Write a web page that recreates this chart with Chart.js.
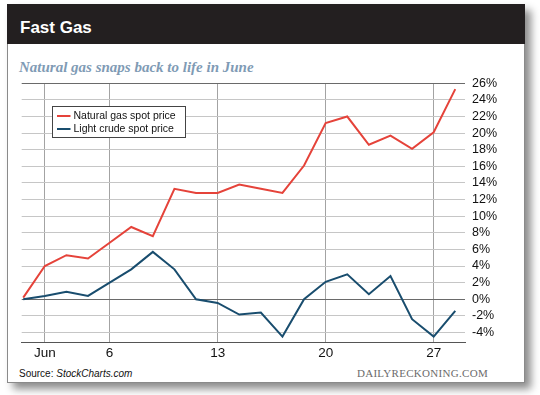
<!DOCTYPE html>
<html>
<head>
<meta charset="utf-8">
<script src="https://cdn.jsdelivr.net/npm/chart.js@4/dist/chart.umd.min.js"></script>
<style>
  html, body { margin:0; padding:0; background:#fff; width:540px; height:395px; overflow:hidden; }
  #frame { position:absolute; left:7px; top:4px; width:518px; height:379px; box-sizing:border-box;
           border:1px solid #8a8a8a; background:#fff; box-shadow:6px 6px 8px rgba(0,0,0,0.45); }
  #head { position:absolute; left:7px; top:4px; width:518px; height:40px; background:#231f20; }
  .t { position:absolute; white-space:nowrap; line-height:1; }
  #title { left:20px; top:17.6px; font:bold 17px "Liberation Sans", Arial, sans-serif; color:#fff; }
  #sub { left:19px; top:59.4px; font:italic bold 15px "Liberation Serif", "Times New Roman", serif; color:#7f9bb5; }
  #src { left:19px; top:368.2px; font:10px "Liberation Sans", Arial, sans-serif; color:#111; }
  #brand { right:52px; top:367px; font:11px "Liberation Serif", "Times New Roman", serif; color:#6b6b6b; letter-spacing:0.3px; }
  #c { position:absolute; left:0; top:0; }
</style>
</head>
<body>
<div id="frame"></div>
<div id="head"></div>
<div class="t" id="title">Fast Gas</div>
<div class="t" id="sub">Natural gas snaps back to life in June</div>
<div class="t" id="src">Source: <i>StockCharts.com</i></div>
<div class="t" id="brand">DAILYRECKONING.COM</div>
<canvas id="c" width="540" height="395"></canvas>
<script>
// Trading days (May 31 – Jun 28)
const categories = ['May 31','Jun 1','Jun 2','Jun 3','Jun 6','Jun 7','Jun 8','Jun 9','Jun 10',
  'Jun 13','Jun 14','Jun 15','Jun 16','Jun 17','Jun 20','Jun 21','Jun 22','Jun 23','Jun 24','Jun 27','Jun 28'];
// % change
const gasValues   = [0.2, 4.0, 5.3, 4.9, 6.8, 8.7, 7.6, 13.3, 12.8, 12.8, 13.8, 13.3, 12.8, 16.1, 21.2, 22.0, 18.6, 19.7, 18.1, 20.1, 25.3];
const crudeValues = [0.0, 0.4, 0.9, 0.4, 2.0, 3.6, 5.7, 3.6, 0.0, -0.45, -1.85, -1.6, -4.5, 0.0, 2.1, 3.0, 0.6, 2.8, -2.4, -4.5, -1.4];
const seriesNames = ['Natural gas spot price', 'Light crude spot price'];
const tickDates  = ['Jun 1','Jun 6','Jun 13','Jun 20','Jun 27'];
const tickLabels = ['Jun','6','13','20','27'];
const yTicks = [-4,-2,0,2,4,6,8,10,12,14,16,18,20,22,24,26];

const toPts = arr => arr.map((v,i) => ({x:i, y:v}));

const legendPlugin = {
  id:'insideLegend',
  afterDatasetsDraw(chart) {
    const ctx = chart.ctx;
    const x0 = 52.5, y0 = 106.5, w = 133, h = 31;
    ctx.save();
    ctx.fillStyle = '#fff';
    ctx.fillRect(x0, y0, w, h);
    ctx.strokeStyle = '#444';
    ctx.lineWidth = 1;
    ctx.strokeRect(x0, y0, w, h);
    ctx.font = '10.5px "Liberation Sans", Arial, sans-serif';
    ctx.textBaseline = 'middle';
    chart.data.datasets.forEach((ds, i) => {
      const y = 116 + i * 13;
      ctx.strokeStyle = ds.borderColor;
      ctx.lineWidth = 2;
      ctx.beginPath(); ctx.moveTo(57, y); ctx.lineTo(70.5, y); ctx.stroke();
      ctx.fillStyle = '#111';
      ctx.fillText(ds.label, 73.5, y + 0.5);
    });
    ctx.restore();
  }
};

new Chart(document.getElementById('c'), {
  type:'line',
  data:{
    datasets:[
      { label:seriesNames[0], data:toPts(gasValues), borderColor:'#e5433a', borderWidth:2, pointRadius:0, tension:0, fill:false },
      { label:seriesNames[1], data:toPts(crudeValues), borderColor:'#194d6e', borderWidth:2, pointRadius:0, tension:0, fill:false }
    ]
  },
  options:{
    responsive:false, animation:false,
    layout:{ padding:{ top:83.3, left:21.7, right:25, bottom:31 } },
    plugins:{ legend:{display:false}, tooltip:{enabled:false} },
    scales:{
      x:{
        type:'linear', position:'bottom', min:-0.07, max:20.45,
        afterBuildTicks: s => { s.ticks = tickDates.map(d => ({value: categories.indexOf(d)})); },
        afterFit: s => { s.height = 22; },
        ticks:{ autoSkip:false, maxRotation:0, padding:3, color:'#111',
                font:{family:'"Liberation Sans", Arial, sans-serif', size:13.5},
                callback:(v, i) => tickLabels[i] },
        grid:{ color:'#a3a3a3', lineWidth:1, drawTicks:false },
        border:{ display:true, color:'#555', width:1 }
      },
      y:{
        position:'right', min:-5.15, max:26,
        afterBuildTicks: s => { s.ticks = yTicks.map(v => ({value:v})); },
        afterFit: s => { s.width = 50; },
        ticks:{ autoSkip:false, padding:7, color:'#111',
                font:{family:'"Liberation Sans", Arial, sans-serif', size:12.5},
                callback: v => v + '%' },
        grid:{ drawTicks:false, lineWidth:1,
               color: c => (c.tick && (c.tick.value === 0 || c.tick.value === 26)) ? '#6a6a6a' : '#c6c6c6' },
        border:{ display:false }
      }
    }
  },
  plugins:[legendPlugin]
});
</script>
</body>
</html>
